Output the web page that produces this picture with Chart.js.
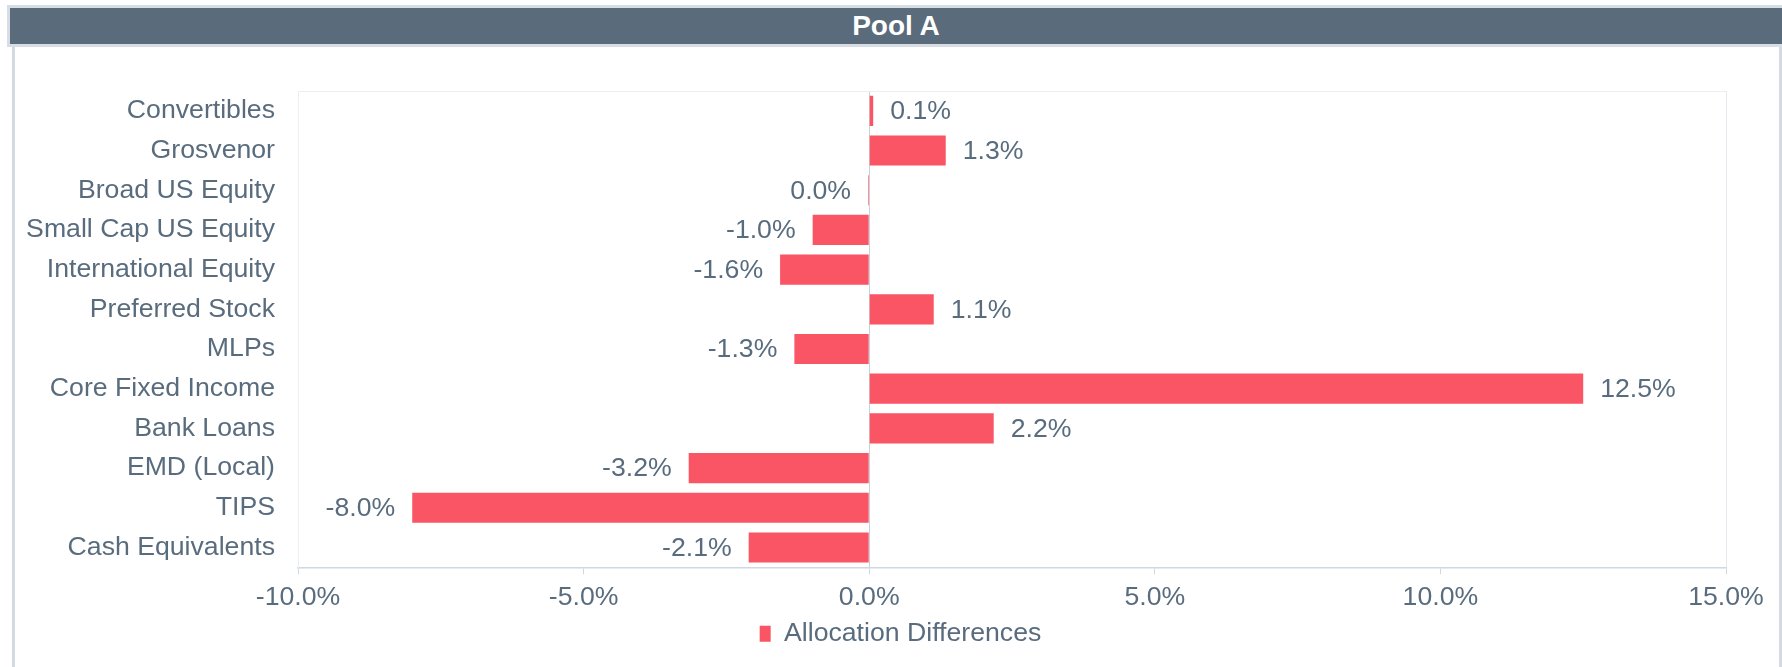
<!DOCTYPE html>
<html>
<head>
<meta charset="utf-8">
<script src="https://cdn.jsdelivr.net/npm/chart.js@4.4.1/dist/chart.umd.min.js"></script>
<style>
  html, body { margin:0; padding:0; background:#ffffff; }
  body { width:1782px; height:667px; position:relative; overflow:hidden; font-family:"Liberation Sans", Arial, sans-serif; }
  #frameTop { position:absolute; left:7px; top:5px; width:1775px; height:42px; background:#d6dde4; }
  #title { position:absolute; left:10px; top:8px; width:1772px; height:36px; background:#5a6b7b; color:#ffffff;
           font-weight:bold; font-size:28px; line-height:36px; text-align:center; }
  #lb { position:absolute; left:12px; top:47px; width:3px; height:620px; background:#d3dae2; }
  #rb { position:absolute; left:1779px; top:47px; width:3px; height:620px; background:#d3dae2; }
  #wrap { position:absolute; left:15px; top:47px; width:1764px; height:620px; }
</style>
</head>
<body>
<div id="frameTop"></div>
<div id="title">Pool A</div>
<div id="lb"></div>
<div id="rb"></div>
<div id="wrap"><canvas id="c"></canvas></div>
<script>
const categories = ["Convertibles","Grosvenor","Broad US Equity","Small Cap US Equity","International Equity","Preferred Stock","MLPs","Core Fixed Income","Bank Loans","EMD (Local)","TIPS","Cash Equivalents"];
const allocationDifferences = [0.07, 1.34, -0.02, -0.99, -1.56, 1.13, -1.31, 12.5, 2.18, -3.16, -8.0, -2.11];
const seriesName = "Allocation Differences";
const xMin = -10, xMax = 15, xStep = 5;

const TEXT = "#596c7e";
const BAR = "#fa5565";
const FONT = "'Liberation Sans', Arial, sans-serif";

function pct(v) {
  const r = Math.round(v * 10) / 10;
  return (r === 0 ? 0 : r).toFixed(1) + '%';
}

const topLine = {
  id: 'topLine',
  beforeDatasetsDraw(chart) {
    const a = chart.chartArea, ctx = chart.ctx;
    ctx.save();
    ctx.strokeStyle = '#eceff2';
    ctx.lineWidth = 1;
    ctx.beginPath();
    ctx.moveTo(a.left, a.top + 0.5);
    ctx.lineTo(a.right, a.top + 0.5);
    ctx.stroke();
    ctx.restore();
  }
};

const legendShift = {
  id: 'legendShift',
  afterLayout(chart) {
    const lg = chart.legend;
    if (lg) { lg.left += 30; lg.right += 30; }
  }
};

const valueLabels = {
  id: 'valueLabels',
  afterDatasetsDraw(chart) {
    const ctx = chart.ctx;
    const meta = chart.getDatasetMeta(0);
    const data = chart.data.datasets[0].data;
    const xs = chart.scales.x;
    ctx.save();
    ctx.font = "26.67px " + FONT;
    ctx.fillStyle = TEXT;
    ctx.textBaseline = 'middle';
    meta.data.forEach((bar, i) => {
      const v = data[i];
      const txt = pct(v);
      const end = xs.getPixelForValue(v);
      if (v >= 0) { ctx.textAlign = 'left'; ctx.fillText(txt, end + 17, bar.y + 1); }
      else { ctx.textAlign = 'right'; ctx.fillText(txt, end - 17, bar.y + 1); }
    });
    ctx.restore();
  }
};

new Chart(document.getElementById('c'), {
  type: 'bar',
  data: {
    labels: categories,
    datasets: [{
      label: seriesName,
      data: allocationDifferences,
      backgroundColor: BAR,
      borderWidth: 0,
      barPercentage: 0.95,
      categoryPercentage: 0.8
    }]
  },
  options: {
    indexAxis: 'y',
    responsive: true,
    maintainAspectRatio: false,
    animation: false,
    layout: { padding: { top: 44, right: 53, bottom: 10, left: 0 } },
    scales: {
      x: {
        min: xMin, max: xMax,
        ticks: {
          stepSize: xStep,
          color: TEXT,
          font: { family: FONT, size: 26.67 },
          padding: 7,
          callback: v => pct(v)
        },
        grid: {
          color: ctx => (ctx.tick && ctx.tick.value === 0) ? '#c9d1d9' : (ctx.tick && ctx.tick.value === xMax ? '#e6e9ed' : 'rgba(0,0,0,0)'),
          tickColor: '#d0d8e0',
          tickLength: 7,
          drawTicks: true
        },
        border: { color: '#d0d8e0', width: 1.5 },
        afterFit: s => { s.height = s.height - 6; }
      },
      y: {
        ticks: {
          color: TEXT,
          font: { family: FONT, size: 26.67 },
          padding: 23
        },
        grid: { display: false, drawTicks: false },
        border: { color: '#eceff2', width: 1 },
        afterFit: s => { s.width = 283; }
      }
    },
    plugins: {
      legend: {
        position: 'bottom',
        labels: {
          color: TEXT,
          font: { family: FONT, size: 26.67 },
          boxWidth: 11,
          boxHeight: 16,
          padding: 6
        }
      },
      tooltip: { enabled: false }
    }
  },
  plugins: [topLine, legendShift, valueLabels]
});
</script>
</body>
</html>
